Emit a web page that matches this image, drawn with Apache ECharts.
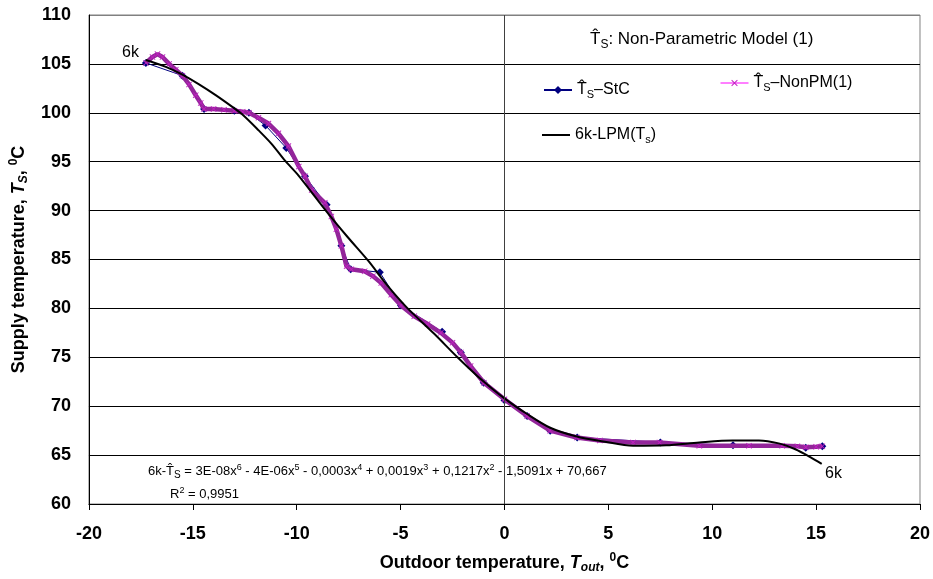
<!DOCTYPE html>
<html>
<head>
<meta charset="utf-8">
<script src="https://cdn.jsdelivr.net/npm/echarts@6/dist/echarts.min.js"></script>
<style>html,body{margin:0;padding:0;background:#fff}#c{width:933px;height:579px}</style>
</head>
<body>
<div id="c"></div>
<script>
// ---- data ----
var xTicks = [-20, -15, -10, -5, 0, 5, 10, 15, 20];
var yTicks = [60, 65, 70, 75, 80, 85, 90, 95, 100, 105, 110];

// T^S - StC (navy diamonds)
var stcX = [-17.26, -15.5, -14.46, -13.0, -12.3, -11.5, -10.5, -9.6, -8.56, -7.85, -7.4, -6.0, -4.98, -3.0,
  -2.1, -1.0, 0.0, 1.09, 2.2, 3.5, 7.5, 11.0, 14.5, 15.3];
var stcY = [105.1, 103.8, 100.4, 100.2, 100.0, 98.7, 96.4, 93.5, 90.6, 86.4, 84.0, 83.7, 80.3, 77.6,
  75.5, 72.4, 70.6, 69.0, 67.5, 66.8, 66.3, 66.0, 65.75, 65.9];

// T^S - NonPM(1) (magenta / purple band)
var nonpmX = [-17.26, -16.94, -16.7, -16.46, -16.14, -15.82, -15.5, -15.18, -14.86, -14.62, -14.46,
  -14.0, -13.5, -13.0, -12.6, -12.3, -11.84, -11.36, -10.88, -10.4, -9.9, -9.6, -9.28, -8.65, -8.33,
  -8.09, -7.85, -7.6, -7.37, -6.73, -6.33, -5.93, -5.45, -4.98, -4.34, -3.7, -3.06, -2.5, -2.1, -1.63,
  -0.99, 0.0, 1.09, 2.2, 3.48, 4.59, 6.19, 7.46, 9.38, 11.77, 13.37, 14.1, 14.5, 15.0, 15.3];
var nonpmY = [105.1, 105.7, 106.0, 105.7, 105.0, 104.4, 103.8, 102.9, 101.8, 101.0, 100.4,
  100.4, 100.3, 100.2, 100.1, 100.0, 99.5, 98.9, 97.9, 96.6, 94.5, 93.5, 92.1, 90.8, 89.4,
  88.1, 86.4, 84.3, 84.0, 83.8, 83.3, 82.6, 81.4, 80.3, 79.2, 78.4, 77.5, 76.5, 75.5, 74.1,
  72.4, 70.7, 69.0, 67.5, 66.8, 66.5, 66.3, 66.3, 65.95, 65.95, 65.95, 65.9, 65.8, 65.85, 65.9];

// 6k-LPM(Ts) (black polynomial trend line)
var lpmX = [-17.26, -16.3, -15.5, -14.7, -13.9, -13.1, -12.6, -11.83, -11.2, -10.56, -9.92, -8.56,
  -7.55, -6.57, -5.62, -4.66, -3.38, -2.26, -1.31, 0.0, 1.09, 2.2, 3.48, 4.75, 6.19, 7.78, 9.38,
  10.97, 12.25, 13.2, 14.0, 14.72, 15.27];
var lpmY = [105.4, 104.7, 103.9, 102.9, 101.8, 100.6, 99.8, 98.2, 96.8, 95.1, 93.6, 89.9,
  87.3, 84.9, 82.3, 80.0, 77.4, 75.0, 73.1, 70.8, 69.2, 67.8, 66.9, 66.4, 65.95, 66.0, 66.3,
  66.5, 66.5, 66.2, 65.6, 64.8, 64.1];

function pairs(xs, ys) { return xs.map(function (x, i) { return [x, ys[i]]; }); }

var FF = '"Liberation Sans", Arial, sans-serif';
var HAT_T = 'T\u0302';

var legRich = {
  t: { fontFamily: FF, fontSize: 16, lineHeight: 20, color: '#000' },
  s: { fontFamily: FF, fontSize: 11, lineHeight: 11, color: '#000', verticalAlign: 'bottom' }
};

var chart = echarts.init(document.getElementById('c'), null, { renderer: 'canvas' });
var option = {
  animation: false,
  backgroundColor: '#fff',
  grid: { left: 85.5, right: 11, top: 15, bottom: 74, show: true, borderColor: '#808080', borderWidth: 1, backgroundColor: 'transparent' },
  xAxis: {
    type: 'value', min: xTicks[0], max: xTicks[xTicks.length - 1], interval: 5,
    axisLine: { show: true, onZero: false, lineStyle: { color: '#000', width: 1 } },
    axisTick: { show: true, length: 6, lineStyle: { color: '#000' } },
    axisLabel: { margin: 21, fontFamily: FF, fontSize: 18, fontWeight: 'bold', color: '#000' },
    splitLine: { show: false },
    name: '{b|Outdoor temperature, }{i|T}{is|out}{b|, }{sp|0}{b|C}',
    nameLocation: 'middle', nameGap: 48,
    nameTextStyle: {
      rich: {
        b: { fontFamily: FF, fontSize: 18, fontWeight: 'bold', lineHeight: 22, color: '#000' },
        i: { fontFamily: FF, fontSize: 18, fontWeight: 'bold', fontStyle: 'italic', lineHeight: 22, color: '#000' },
        is: { fontFamily: FF, fontSize: 12, fontWeight: 'bold', fontStyle: 'italic', lineHeight: 12, verticalAlign: 'bottom', color: '#000' },
        sp: { fontFamily: FF, fontSize: 12, fontWeight: 'bold', lineHeight: 12, verticalAlign: 'top', color: '#000' }
      }
    }
  },
  yAxis: {
    type: 'value', min: yTicks[0], max: yTicks[yTicks.length - 1], interval: 5,
    axisLine: { show: true, onZero: false, lineStyle: { color: '#000', width: 1 } },
    axisTick: { show: false },
    axisLabel: { margin: 18, fontFamily: FF, fontSize: 18, fontWeight: 'bold', color: '#000' },
    splitLine: { show: true, lineStyle: { color: ['#000', '#000', '#000', '#000', '#000', '#000', '#000', '#000', '#000', '#000', '#808080'], width: 1 } },
    name: '{b|Supply temperature, }{i|T}{is|S}{b|, }{sp|0}{b|C}',
    nameLocation: 'middle', nameGap: 49, nameRotate: 90,
    nameTextStyle: {
      rich: {
        b: { fontFamily: FF, fontSize: 18, fontWeight: 'bold', lineHeight: 22, color: '#000' },
        i: { fontFamily: FF, fontSize: 18, fontWeight: 'bold', fontStyle: 'italic', lineHeight: 22, color: '#000' },
        is: { fontFamily: FF, fontSize: 12, fontWeight: 'bold', fontStyle: 'italic', lineHeight: 12, verticalAlign: 'bottom', color: '#000' },
        sp: { fontFamily: FF, fontSize: 12, fontWeight: 'bold', lineHeight: 12, verticalAlign: 'top', color: '#000' }
      }
    }
  },
  legend: [
    {
      data: ['StC'], left: 543, top: 82, padding: 0, itemWidth: 28, itemHeight: 10, itemGap: 0,
      formatter: function () { return '{t|' + HAT_T + '}{s|S}{t|\u2013StC}'; },
      textStyle: { rich: legRich }
    },
    {
      data: ['NonPM'], left: 720, top: 75, padding: 0, itemWidth: 28, itemHeight: 8, itemGap: 0,
      lineStyle: { width: 1, color: '#ff00ff' },
      formatter: function () { return '{t|' + HAT_T + '}{s|S}{t|\u2013NonPM(1)}'; },
      textStyle: { rich: legRich }
    },
    {
      data: [{ name: 'LPM', icon: 'rect' }], left: 542, top: 127, padding: 0, itemWidth: 28, itemHeight: 2, itemGap: 0,
      itemStyle: { color: '#000' },
      formatter: function () { return '{t|6k-LPM(T}{s|s}{t|)}'; },
      textStyle: { rich: legRich }
    }
  ],
  graphic: [
    {
      type: 'text', left: 590, top: 31, z: 10,
      style: {
        text: '{t|' + HAT_T + '}{s|S}{t|: Non-Parametric Model (1)}',
        rich: {
          t: { fontFamily: FF, fontSize: 17, lineHeight: 22, fill: '#000', color: '#000' },
          s: { fontFamily: FF, fontSize: 12, lineHeight: 12, verticalAlign: 'bottom', fill: '#000', color: '#000' }
        }
      }
    },
    { type: 'text', left: 122, top: 45, z: 10, style: { text: '6k', fontFamily: FF, fontSize: 16, fill: '#000' } },
    { type: 'text', left: 825, top: 466, z: 10, style: { text: '6k', fontFamily: FF, fontSize: 16, fill: '#000' } },
    {
      type: 'text', left: 148, top: 463, z: 10,
      style: {
        text: '{e|6k-' + HAT_T + '}{b|S}{e| = 3E-08x}{p|6}{e| - 4E-06x}{p|5}{e| - 0,0003x}{p|4}{e| + 0,0019x}{p|3}{e| + 0,1217x}{p|2}{e| - 1,5091x + 70,667}',
        rich: {
          e: { fontFamily: FF, fontSize: 13, lineHeight: 17, fill: '#000', color: '#000' },
          p: { fontFamily: FF, fontSize: 9, lineHeight: 10, verticalAlign: 'top', fill: '#000', color: '#000' },
          b: { fontFamily: FF, fontSize: 10, lineHeight: 10, verticalAlign: 'bottom', fill: '#000', color: '#000' }
        }
      }
    },
    {
      type: 'text', left: 170, top: 486, z: 10,
      style: {
        text: '{e|R}{p|2}{e| = 0,9951}',
        rich: {
          e: { fontFamily: FF, fontSize: 13, lineHeight: 17, fill: '#000', color: '#000' },
          p: { fontFamily: FF, fontSize: 9, lineHeight: 10, verticalAlign: 'top', fill: '#000', color: '#000' }
        }
      }
    }
  ],
  series: [
    {
      name: 'StC', type: 'line', z: 2, data: pairs(stcX, stcY),
      symbol: 'diamond', symbolSize: 8, showAllSymbol: true,
      lineStyle: { color: '#000080', width: 1 }, itemStyle: { color: '#000080' },
      markLine: {
        silent: true, symbol: 'none', label: { show: false },
        lineStyle: { color: '#404040', width: 1, type: 'solid' },
        data: [{ xAxis: 0 }]
      }
    },
    {
      name: 'NonPM', type: 'line', z: 3, data: pairs(nonpmX, nonpmY),
      symbol: 'path://M0,1L1,0L5,4L9,0L10,1L6,5L10,9L9,10L5,6L1,10L0,9L4,5Z', symbolSize: 6, showAllSymbol: true,
      lineStyle: { color: '#93259a', width: 4.5 }, itemStyle: { color: '#c020c0' }
    },
    {
      name: 'LPM', type: 'line', z: 4, data: pairs(lpmX, lpmY), smooth: 0.3,
      symbol: 'none', lineStyle: { color: '#000', width: 2 }, itemStyle: { color: '#000' }
    }
  ]
};
chart.setOption(option);
</script>
</body>
</html>
